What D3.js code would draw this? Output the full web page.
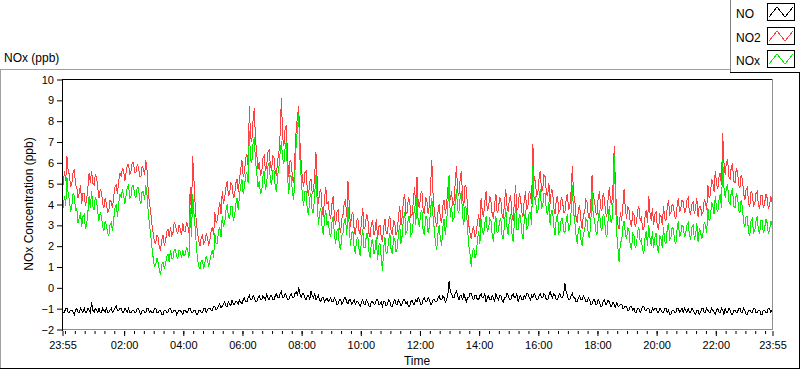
<!DOCTYPE html>
<html><head><meta charset="utf-8">
<script src="https://cdn.jsdelivr.net/npm/d3@7"></script>
<style>
html,body{margin:0;padding:0;background:#fff;}
svg{display:block;font-family:"Liberation Sans",Arial,sans-serif;}
</style></head><body>
<svg id="c" width="800" height="369"></svg>
<script>
const seriesNames = ["NO","NO2","NOx"];
const seriesColors = ["#000000","#ff4040","#00f000"];
const yTickValues = [-2,-1,0,1,2,3,4,5,6,7,8,9,10];
const xTickLabels = ["23:55","02:00","04:00","06:00","08:00","10:00","12:00","14:00","16:00","18:00","20:00","22:00","23:55"];
const sampleMinutes = 2.5;

const NO = [
-1.1,-1.2,-1.2,-1.0,-1.0,-1.2,-1.2,-1.1,-1.1,-1.2,-1.3,-1.1,-1.0,-1.2,-1.2,-1.0,-1.1,-1.2,-1.0,-1.2,-1.2,-1.0,-1.1,-1.2,
-0.7,-1.1,-1.2,-1.0,-1.1,-1.2,-1.0,-1.2,-1.2,-1.0,-1.1,-1.2,-1.0,-1.2,-1.2,-1.1,-1.0,-1.2,-1.1,-1.0,-0.9,-1.1,-1.1,-1.0,
-1.0,-1.2,-1.2,-1.0,-1.1,-1.2,-1.0,-1.2,-1.2,-1.1,-1.1,-1.2,-1.2,-1.0,-1.0,-1.2,-1.3,-1.1,-1.1,-1.2,-1.2,-1.0,-1.0,-1.2,
-1.1,-1.2,-1.2,-1.0,-1.0,-1.2,-1.2,-1.1,-1.1,-1.3,-1.3,-1.1,-1.1,-1.2,-1.2,-1.0,-1.0,-1.2,-1.2,-1.1,-1.1,-1.3,-1.2,-1.1,
-1.1,-1.2,-1.3,-1.1,-1.1,-1.2,-1.2,-1.0,-1.0,-1.2,-1.2,-1.1,-1.1,-1.3,-1.3,-1.1,-1.1,-1.2,-1.2,-1.0,-1.0,-1.2,-1.1,-1.0,
-1.0,-1.1,-1.1,-0.9,-0.9,-1.1,-1.0,-0.9,-0.8,-1.0,-0.9,-0.8,-0.7,-0.9,-0.9,-0.7,-0.8,-0.9,-0.6,-0.8,-0.8,-0.7,-0.7,-0.8,
-0.6,-0.7,-0.8,-0.6,-0.5,-0.7,-0.7,-0.5,-0.4,-0.6,-0.6,-0.4,-0.5,-0.7,-0.7,-0.5,-0.4,-0.6,-0.6,-0.4,-0.5,-0.6,-0.3,-0.5,
-0.6,-0.4,-0.4,-0.6,-0.6,-0.4,-0.3,-0.5,-0.5,-0.3,-0.2,-0.5,-0.5,-0.3,-0.4,-0.6,-0.6,-0.4,-0.3,-0.5,-0.5,-0.3,-0.2,-0.4,
0.0,-0.3,-0.5,-0.3,-0.3,-0.5,-0.6,-0.4,-0.4,-0.6,-0.2,-0.4,-0.5,-0.3,-0.6,-0.5,-0.4,-0.6,-0.7,-0.5,-0.5,-0.7,-0.6,-0.5,
-0.7,-0.6,-0.5,-0.7,-0.7,-0.5,-0.6,-0.8,-0.8,-0.6,-0.6,-0.8,-0.7,-0.5,-0.5,-0.7,-0.8,-0.6,-0.6,-0.8,-0.7,-0.6,-0.8,-0.7,
-0.7,-0.8,-0.9,-0.7,-0.6,-0.8,-0.8,-0.6,-0.7,-0.9,-0.9,-0.7,-0.7,-0.8,-0.8,-0.6,-0.6,-0.8,-0.8,-0.7,-0.9,-0.7,-0.7,-0.9,
-0.8,-0.6,-0.7,-0.9,-0.9,-0.7,-0.6,-0.8,-0.8,-0.6,-0.7,-0.9,-0.8,-0.6,-0.6,-0.8,-0.7,-0.9,-0.9,-0.7,-0.6,-0.8,-0.8,-0.6,
-0.7,-0.5,-0.6,-0.8,-0.8,-0.6,-0.5,-0.7,-0.7,-0.5,-0.6,-0.8,-0.8,-0.6,-0.6,-0.7,-0.7,-0.5,-0.4,-0.6,-0.6,-0.4,-0.5,-0.7,
-0.6,-0.4,0.3,-0.2,-0.3,-0.5,-0.5,-0.3,-0.2,-0.4,-0.6,-0.4,-0.4,-0.6,-0.3,-0.5,-0.7,-0.5,-0.5,-0.3,-0.3,-0.5,-0.6,-0.4,
-0.4,-0.6,-0.6,-0.4,-0.3,-0.5,-0.5,-0.3,-0.7,-0.5,-0.4,-0.6,-0.6,-0.4,-0.5,-0.7,-0.3,-0.5,-0.6,-0.4,-0.4,-0.6,-0.7,-0.5,
-0.5,-0.3,-0.4,-0.6,-0.6,-0.4,-0.3,-0.5,-0.5,-0.3,-0.7,-0.5,-0.4,-0.6,-0.6,-0.4,-0.5,-0.3,-0.3,-0.5,-0.6,-0.4,-0.5,-0.3,
-0.4,-0.6,-0.6,-0.4,-0.3,-0.5,-0.5,-0.3,-0.4,-0.6,-0.6,-0.4,-0.2,-0.4,-0.5,-0.3,-0.4,-0.6,-0.6,-0.4,-0.3,-0.5,-0.5,-0.3,
0.2,-0.2,-0.4,-0.6,-0.6,-0.4,-0.3,-0.5,-0.5,-0.7,-0.7,-0.5,-0.4,-0.6,-0.6,-0.4,-0.5,-0.7,-0.7,-0.5,-0.6,-0.8,-0.8,-0.6,
-0.6,-0.8,-0.8,-0.6,-0.7,-0.9,-0.9,-0.7,-0.6,-0.8,-0.8,-0.6,-0.7,-0.9,-0.9,-0.7,-0.8,-1.0,-0.7,-0.9,-0.9,-0.8,-0.8,-1.0,
-1.0,-0.9,-0.9,-1.1,-1.1,-0.9,-0.9,-1.1,-1.0,-1.2,-1.2,-1.0,-1.0,-1.2,-1.1,-0.9,-0.9,-1.1,-1.1,-1.0,-1.0,-1.2,-1.2,-1.0,
-1.1,-1.0,-1.0,-1.2,-1.2,-1.0,-1.1,-1.2,-1.2,-1.0,-1.0,-1.2,-1.1,-1.3,-1.3,-1.1,-1.1,-1.2,-1.2,-1.0,-1.0,-1.2,-1.1,-1.0,
-1.2,-1.0,-1.1,-1.2,-1.0,-1.2,-1.2,-1.0,-1.1,-1.2,-1.3,-1.1,-1.1,-1.3,-1.2,-1.0,-1.0,-1.2,-1.2,-1.0,-1.1,-1.2,-1.2,-1.0,
-1.1,-1.2,-1.3,-1.1,-1.0,-1.2,-1.2,-1.0,-1.1,-1.3,-1.0,-1.2,-1.2,-1.0,-1.1,-1.3,-1.3,-1.1,-1.1,-1.2,-1.2,-1.0,-1.0,-1.2,
-1.2,-1.0,-1.1,-1.3,-1.3,-1.1,-1.1,-1.2,-1.2,-1.0,-1.0,-1.2,-1.2,-1.1,-1.1,-1.3,-1.3,-1.1,-1.1,-1.2,-1.2,-1.0,-1.0,-1.2,-1.1
];

const NO2 = [
5.2,4.9,5.6,5.1,6.3,5.6,5.4,4.8,5.0,5.5,5.7,4.9,4.8,4.3,4.5,4.9,4.0,4.5,4.5,3.9,4.2,4.8,5.5,5.0,
5.6,5.0,4.9,5.4,5.3,4.8,4.3,4.7,4.6,4.0,3.8,4.3,4.0,3.6,3.7,4.2,4.1,3.8,4.4,4.8,4.9,4.5,5.1,5.5,
5.3,5.7,5.6,5.1,5.5,5.9,5.9,5.4,5.6,6.0,6.0,5.5,5.5,5.9,5.8,5.3,5.3,5.8,5.7,5.4,6.1,5.6,4.6,4.0,
3.6,3.0,2.6,2.2,2.1,2.5,2.4,1.9,1.8,2.3,2.5,2.0,2.2,2.7,2.8,2.4,2.9,2.5,2.6,3.1,3.0,2.7,2.6,3.0,
2.8,2.5,3.1,2.7,2.7,3.1,3.0,2.6,4.8,3.5,6.3,5.2,4.0,3.1,2.6,2.2,2.0,2.4,2.5,2.1,2.2,2.6,2.4,2.0,
2.3,2.7,2.9,2.5,3.6,3.1,3.2,3.7,4.1,3.5,4.6,4.0,4.3,4.8,5.1,4.4,4.5,5.0,4.9,4.3,4.4,5.0,5.2,4.6,
5.2,5.7,6.1,5.3,5.5,6.2,6.4,5.8,8.7,7.2,7.0,8.0,8.6,7.1,6.4,5.7,6.0,5.4,5.5,6.2,6.3,5.6,5.8,6.5,
6.6,5.9,5.6,6.3,6.2,5.5,5.4,6.1,6.5,7.4,9.1,7.2,6.8,7.6,7.8,6.2,5.3,6.1,6.0,5.2,5.0,6.4,7.6,8.2,
8.7,7.0,6.0,5.2,4.8,5.5,5.6,4.7,4.4,5.1,5.2,4.5,4.6,5.4,6.5,5.2,4.0,4.6,4.7,3.8,3.4,4.3,4.8,4.0,
4.1,3.5,3.3,4.0,4.4,3.4,3.0,3.6,3.7,2.9,2.6,3.3,3.5,4.1,4.2,3.4,5.1,4.0,2.9,3.5,3.6,2.8,2.5,3.2,
3.3,2.7,2.5,3.2,3.8,2.8,2.9,3.5,3.4,2.6,2.4,3.1,3.2,2.5,2.7,3.3,2.3,2.9,3.0,2.4,2.2,2.9,3.3,2.6,
2.6,3.2,3.4,2.7,2.5,3.2,3.1,2.5,2.7,3.4,3.9,3.0,3.4,4.2,4.5,3.5,3.6,4.3,4.2,3.4,3.5,4.1,4.8,3.9,
5.3,4.0,3.8,4.5,4.6,3.7,3.5,4.3,4.2,3.5,3.9,4.8,6.1,4.5,3.7,3.2,2.9,3.6,4.0,3.3,3.1,3.9,4.2,3.5,
4.0,4.7,5.3,4.2,4.6,3.9,4.1,5.0,5.8,4.6,4.4,5.2,5.6,4.3,3.9,4.9,4.8,3.8,3.0,2.6,2.3,2.8,2.9,2.4,
2.6,3.1,3.5,2.9,4.3,3.6,3.4,4.1,4.6,3.7,3.8,4.4,4.1,3.5,3.3,4.0,4.5,3.6,3.7,4.3,4.2,3.5,3.3,4.1,
4.7,3.9,3.6,4.3,4.4,3.5,3.2,4.1,4.9,3.7,3.8,4.5,4.3,3.6,3.4,4.2,4.6,3.7,3.9,4.6,4.5,4.0,6.9,5.2,
5.1,4.4,4.5,5.2,5.6,4.6,4.7,5.4,5.3,4.5,4.4,5.0,4.0,4.7,4.6,3.8,3.5,4.2,4.4,3.6,3.7,4.3,4.2,3.6,
3.6,4.2,4.5,3.7,3.9,4.6,5.8,4.5,4.2,3.4,3.1,3.8,3.9,3.2,2.8,3.5,3.6,4.2,4.1,3.4,3.3,4.0,5.4,4.3,
4.2,3.6,3.5,4.3,4.6,3.8,3.7,4.5,4.3,3.6,3.4,4.2,4.8,4.1,4.0,4.9,6.8,4.8,3.6,3.0,2.8,3.6,3.2,3.9,
4.7,3.8,3.3,3.9,3.7,3.1,2.9,3.6,3.5,2.9,3.1,3.7,3.9,3.2,3.4,2.8,2.8,3.4,3.7,3.1,4.4,3.6,3.2,3.8,
3.0,3.5,3.6,2.9,2.8,3.5,3.4,3.0,3.9,3.3,3.2,3.8,4.2,3.5,3.6,4.0,3.9,3.4,3.3,3.9,4.3,3.6,3.8,4.2,
4.1,3.6,3.7,4.2,4.3,3.6,3.5,4.0,4.1,3.5,3.8,4.3,3.4,3.9,3.9,3.5,3.6,4.2,4.1,3.7,4.9,4.3,4.4,5.2,
5.0,4.6,5.6,5.0,4.7,5.3,5.5,4.9,7.4,6.0,5.4,6.0,6.1,5.3,5.2,5.8,5.9,5.1,5.0,5.7,5.6,4.9,4.8,5.4,
5.2,4.5,4.2,4.7,4.8,4.0,3.9,4.6,4.5,3.9,4.0,4.5,4.6,3.9,3.8,4.4,4.4,3.8,4.0,4.5,4.3,3.8,3.9,4.4,4.1
];

const NOx = [
4.1,3.8,4.4,3.9,5.3,4.5,4.2,3.6,3.9,4.5,4.4,3.7,3.8,3.1,3.3,3.6,2.9,3.4,3.5,2.8,3.0,3.6,4.4,3.8,
4.6,3.9,3.7,4.3,4.2,3.6,3.2,3.6,3.4,2.9,2.7,3.2,3.0,2.6,2.5,3.0,3.1,2.7,3.3,3.8,4.0,3.4,4.0,4.5,
4.3,4.7,4.4,4.0,4.4,4.8,4.9,4.3,4.4,4.9,4.9,4.4,4.3,4.8,4.8,4.2,4.0,4.6,4.6,4.2,4.9,4.4,3.6,3.0,
2.5,1.9,1.4,1.0,1.1,1.4,1.2,0.8,0.6,1.1,1.2,0.9,1.1,1.5,1.6,1.2,1.8,1.4,1.4,1.8,1.8,1.5,1.4,1.8,
1.7,1.4,1.8,1.5,1.6,1.9,1.8,1.4,3.8,2.4,4.5,3.6,2.9,2.0,1.3,1.0,0.9,1.3,1.3,0.9,1.2,1.5,1.3,1.0,
1.3,1.6,1.8,1.4,2.6,2.1,2.1,2.7,2.9,2.4,3.4,2.9,3.1,3.7,4.0,3.4,3.3,3.9,3.9,3.2,3.4,4.0,4.3,3.7,
4.4,4.9,5.2,4.5,4.8,5.4,5.5,5.0,7.5,6.1,6.0,6.9,7.2,6.0,5.5,4.8,5.1,4.5,4.6,5.3,5.6,4.7,4.9,5.8,
6.0,5.2,4.9,5.6,5.6,4.8,4.6,5.4,5.8,6.5,7.0,6.2,5.9,6.7,7.0,5.3,4.5,5.4,5.3,4.5,4.2,5.6,6.9,7.6,
8.3,6.2,5.3,4.4,3.9,4.6,4.6,3.7,3.5,4.3,4.5,3.6,3.6,4.5,5.4,4.2,3.0,3.6,3.8,2.9,2.5,3.3,3.7,3.0,
3.2,2.6,2.4,3.1,3.4,2.5,2.1,2.7,2.8,2.0,1.8,2.5,2.6,3.2,3.3,2.5,3.9,3.0,2.0,2.6,2.7,1.9,1.6,2.3,
2.4,1.8,1.5,2.3,2.8,1.9,1.9,2.6,2.6,1.7,1.4,2.2,2.3,1.6,1.8,2.4,1.3,2.0,2.1,1.4,0.8,1.9,2.4,1.6,
1.7,2.3,2.6,1.8,1.6,2.4,2.3,1.7,1.9,2.6,3.0,2.1,2.5,3.3,3.6,2.6,2.7,3.4,3.4,2.5,2.6,3.2,3.9,3.0,
4.3,3.1,2.9,3.6,3.7,2.7,2.5,3.4,3.4,2.6,2.9,3.7,4.3,3.4,2.8,2.1,1.8,2.6,3.0,2.3,2.0,2.9,3.3,2.5,
3.2,3.9,5.4,3.4,3.9,3.2,3.3,4.1,4.7,3.7,3.6,4.3,4.6,3.4,3.0,3.9,3.8,2.8,2.0,1.6,1.0,1.7,1.9,1.4,
1.6,2.2,2.7,2.1,3.3,2.7,2.5,3.1,3.4,2.7,2.8,3.3,3.2,2.5,2.2,3.0,3.4,2.6,2.7,3.2,3.3,2.5,2.3,3.1,
3.8,2.9,2.5,3.3,3.5,2.6,2.2,3.1,4.0,2.8,2.8,3.5,3.4,2.6,2.3,3.2,3.7,2.8,2.9,3.6,3.6,3.0,5.8,4.2,
4.4,3.6,3.6,4.3,4.7,3.8,3.9,4.5,4.5,3.6,3.5,4.1,3.0,3.7,3.7,2.9,2.5,3.3,3.5,2.6,2.7,3.3,3.3,2.7,
2.6,3.2,3.5,2.7,2.9,3.6,4.9,3.6,3.2,2.5,2.1,2.8,2.9,2.3,2.0,2.6,2.7,3.3,3.2,2.5,2.4,3.1,4.6,3.4,
3.3,2.7,2.5,3.3,3.7,2.9,2.7,3.5,3.4,2.6,2.4,3.2,3.9,3.2,3.1,4.0,6.3,4.2,2.6,1.9,1.2,2.2,2.2,2.9,
3.2,2.6,2.3,2.9,2.7,2.0,1.8,2.6,2.5,1.9,2.0,2.7,2.9,2.2,2.3,1.8,1.6,2.4,2.7,2.0,3.0,2.4,2.0,2.7,
1.9,2.4,2.6,1.8,1.7,2.5,2.3,1.9,2.9,2.2,2.1,2.8,3.1,2.3,2.4,2.9,2.8,2.2,2.1,2.8,3.2,2.4,2.6,3.0,
2.9,2.4,2.6,3.0,3.1,2.5,2.3,2.9,3.0,2.3,2.5,3.1,2.2,2.8,2.7,2.3,2.6,3.1,3.0,2.6,3.8,3.2,3.3,4.1,
3.9,3.5,4.4,3.8,3.6,4.2,4.5,3.8,6.1,4.8,4.3,4.8,4.9,4.1,4.0,4.6,4.7,3.9,3.8,4.5,4.4,3.7,3.6,4.2,
3.8,3.1,2.9,3.4,3.4,2.6,2.5,3.2,3.3,2.6,2.7,3.2,3.4,2.7,2.6,3.2,3.2,2.6,2.8,3.3,3.1,2.6,2.7,3.2,3.0
];

const seriesData = [NO, NO2, NOx];

const svg = d3.select("#c");
const L = 62, R = 772, T = 79, B = 329;
const start = new Date(2000,0,1,23,55);
const end = new Date(2000,0,2,23,55);
const x = d3.scaleTime().domain([start,end]).range([L,R]);
const y = d3.scaleLinear().domain([-2,10]).range([B,T]);
const timeAt = i => new Date(start.getTime() + i*sampleMinutes*60000);
const txt = "#000";

// outer panel frame
svg.append("line").attr("x1",0).attr("x2",730).attr("y1",69.5).attr("y2",69.5).attr("stroke","#a0a0a0");
svg.append("line").attr("x1",0.5).attr("x2",0.5).attr("y1",69).attr("y2",369).attr("stroke","#a0a0a0");
svg.append("line").attr("x1",0).attr("x2",800).attr("y1",368.5).attr("y2",368.5).attr("stroke","#000");
svg.append("line").attr("x1",799.5).attr("x2",799.5).attr("y1",72).attr("y2",369).attr("stroke","#000");

// title
svg.append("text").attr("x",4).attr("y",62).attr("font-size",12).attr("fill",txt).text("NOx (ppb)");

// data
svg.append("clipPath").attr("id","pc").append("rect").attr("x",L).attr("y",T).attr("width",R-L).attr("height",B-T+1);
const line = d3.line().x((d,i)=>x(timeAt(i))).y(d=>y(d));
const g = svg.append("g").attr("clip-path","url(#pc)");
seriesData.forEach((arr,k)=>{
  g.append("path").datum(arr).attr("d",line).attr("fill","none")
   .attr("stroke",seriesColors[k]).attr("stroke-width",1).attr("shape-rendering","crispEdges");
});

// plot frame
svg.append("line").attr("x1",L).attr("x2",R+1).attr("y1",T+0.5).attr("y2",T+0.5).attr("stroke","#000");
svg.append("line").attr("x1",R+0.5).attr("x2",R+0.5).attr("y1",T).attr("y2",B+1).attr("stroke","#909090");
svg.append("line").attr("x1",L).attr("x2",R+1).attr("y1",B+0.5).attr("y2",B+0.5).attr("stroke","#909090");
svg.append("line").attr("x1",L+0.5).attr("x2",L+0.5).attr("y1",T).attr("y2",B+2).attr("stroke","#000");

// y axis
const yAxis = svg.append("g").attr("transform",`translate(${L},0.5)`)
  .call(d3.axisLeft(y).tickValues(yTickValues).tickSize(5).tickPadding(3).tickFormat(d3.format("d")));
yAxis.select(".domain").remove();
yAxis.selectAll("text").attr("font-size",11).attr("font-family","Liberation Sans, Arial, sans-serif").attr("fill",txt);
yAxis.selectAll("line").attr("stroke","#000");

// x axis minor ticks (20 min)
const minorTicks = d3.timeMinute.every(20).range(start,end);
const xMinor = svg.append("g").attr("transform",`translate(0.5,${B+2})`)
  .call(d3.axisBottom(x).tickValues(minorTicks).tickSize(3).tickFormat(""));
xMinor.select(".domain").remove();
xMinor.selectAll("line").attr("stroke","#000");

const majorTicks = xTickLabels.map((s,i)=>{
  if(i===0) return start;
  if(i===xTickLabels.length-1) return end;
  const [h,m] = s.split(":").map(Number);
  return new Date(2000,0,2,h,m);
});
const xMajor = svg.append("g").attr("transform",`translate(0.5,${B+2})`)
  .call(d3.axisBottom(x).tickValues(majorTicks).tickSize(5).tickPadding(5).tickFormat((d,i)=>xTickLabels[i]));
xMajor.select(".domain").remove();
xMajor.selectAll("line").attr("stroke","#000");
xMajor.selectAll("text").attr("font-size",11).attr("font-family","Liberation Sans, Arial, sans-serif").attr("fill",txt);

// axis titles
svg.append("text").attr("transform",`translate(33,${(T+B)/2}) rotate(-90)`).attr("text-anchor","middle")
  .attr("font-size",12).attr("fill",txt).text("NOx Concentration (ppb)");
svg.append("text").attr("x",(L+R)/2).attr("y",365).attr("text-anchor","middle")
  .attr("font-size",12).attr("fill",txt).text("Time");

// legend
const lg = svg.append("g");
lg.append("line").attr("x1",730.5).attr("x2",730.5).attr("y1",0).attr("y2",72).attr("stroke","#808080");
lg.append("line").attr("x1",730).attr("x2",800).attr("y1",72.5).attr("y2",72.5).attr("stroke","#000");
const legY = [4,28,51];
seriesNames.forEach((n,k)=>{
  const yy = legY[k];
  lg.append("text").attr("x",736).attr("y",yy+14).attr("font-size",12).attr("fill",txt).text(n);
  lg.append("rect").attr("x",767.5).attr("y",yy-0.5).attr("width",27).attr("height",17).attr("fill","#fff").attr("stroke","#000");
  lg.append("path").attr("d",`M769,${yy+13}L777,${yy+3}L785,${yy+13}L793,${yy+3}`)
    .attr("fill","none").attr("stroke",seriesColors[k]).attr("shape-rendering","crispEdges");
});
</script></body></html>
